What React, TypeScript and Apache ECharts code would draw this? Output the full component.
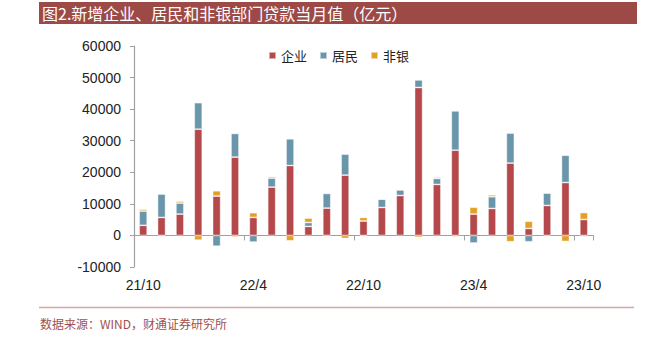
import React, { useEffect, useRef } from "react";
import * as echarts from "echarts";

const categories = [
  "21/10", "21/11", "21/12", "22/1", "22/2", "22/3", "22/4", "22/5", "22/6", "22/7", "22/8", "22/9",
  "22/10", "22/11", "22/12", "23/1", "23/2", "23/3", "23/4", "23/5", "23/6", "23/7", "23/8", "23/9", "23/10",
];
const enterprise = [3200, 5700, 6750, 33650, 12450, 24800, 5700, 15300, 22150, 2850, 8650, 19100, 4550, 8850, 12650, 46850, 16150, 27000, 6750, 8550, 22900, 2200, 9500, 16750, 5050];
const household = [4500, 7400, 3500, 8400, -3400, 7500, -2100, 2850, 8450, 1250, 4650, 6650, -200, 2650, 1800, 2400, 1900, 12450, -2400, 3700, 9500, -2000, 3900, 8650, -350];
const nonbank = [600, -300, 600, -1500, 1700, -500, 1500, 500, -1700, 1400, -300, -950, 1150, 0, 0, -600, 400, -400, 2200, 600, -2000, 2300, -300, -1900, 2200];
const seriesNames = ["企业", "居民", "非银"];
const yTicks = { min: -10000, max: 60000, interval: 10000 };
const titleText = "图2.新增企业、居民和非银部门贷款当月值（亿元）";
const sourceText = "数据来源：WIND，财通证券研究所";

const colors = ["#B4484A", "#6A96AB", "#E0A126"];

export default function App() {
  const ref = useRef<HTMLDivElement>(null);
  useEffect(() => {
    if (!ref.current) return;
    const chart = echarts.init(ref.current, null, { renderer: "svg" });
    const values = [enterprise, household, nonbank];
    chart.setOption({
      animation: false,
      backgroundColor: "#ffffff",
      color: colors,
      grid: { left: 134, right: 66, top: 46, bottom: 72, containLabel: false },
      legend: {
        data: seriesNames,
        left: 263,
        top: 44,
        itemWidth: 7,
        itemHeight: 7,
        itemGap: 12,
        icon: "rect",
        textStyle: { fontFamily: "Noto Sans CJK SC", fontSize: 13, color: "#222" },
      },
      xAxis: {
        type: "category",
        data: categories,
        axisLine: { onZero: true, lineStyle: { color: "#A0A0A0", width: 1.2 } },
        axisTick: { show: true, interval: 5, length: 5, lineStyle: { color: "#A0A0A0" } },
        axisLabel: {
          interval: 5,
          margin: 11,
          fontFamily: "Liberation Sans",
          fontSize: 14,
          color: "#222",
        },
      },
      yAxis: {
        type: "value",
        min: yTicks.min,
        max: yTicks.max,
        interval: yTicks.interval,
        splitLine: { show: false },
        axisLine: { show: true, lineStyle: { color: "#A0A0A0", width: 1.2 } },
        axisTick: { show: true, length: 4, lineStyle: { color: "#A0A0A0" } },
        axisLabel: {
          fontFamily: "Liberation Sans",
          fontSize: 14,
          color: "#222",
          margin: 13,
          formatter: (v: number) => String(v),
        },
      },
      series: seriesNames.map((name, i) => ({
        name,
        type: "bar",
        stack: "total",
        data: values[i],
        barWidth: 8,
        itemStyle: { color: colors[i], borderColor: "rgba(255,255,255,0.55)", borderWidth: 0.8 },
      })),
      graphic: [
        { type: "rect", shape: { x: 39, y: 2, width: 598, height: 22 }, style: { fill: "#9D4A47" } },
        {
          type: "text",
          x: 42,
          y: 13,
          style: {
            text: titleText,
            fill: "#ffffff",
            font: '16px "Noto Sans CJK SC"',
            verticalAlign: "middle",
          },
        },
        {
          type: "line",
          shape: { x1: 39, y1: 307.5, x2: 634, y2: 307.5 },
          style: { stroke: "#D4A6A5", lineWidth: 1.5 },
        },
        {
          type: "text",
          x: 40,
          y: 323,
          style: {
            text: sourceText,
            fill: "#A2504E",
            font: '12px "Noto Sans CJK SC"',
            verticalAlign: "middle",
          },
        },
      ],
    });
    return () => chart.dispose();
  }, []);
  return (
    <div
      ref={ref}
      style={{ position: "fixed", left: 0, top: 0, width: 659, height: 339 }}
    />
  );
}
